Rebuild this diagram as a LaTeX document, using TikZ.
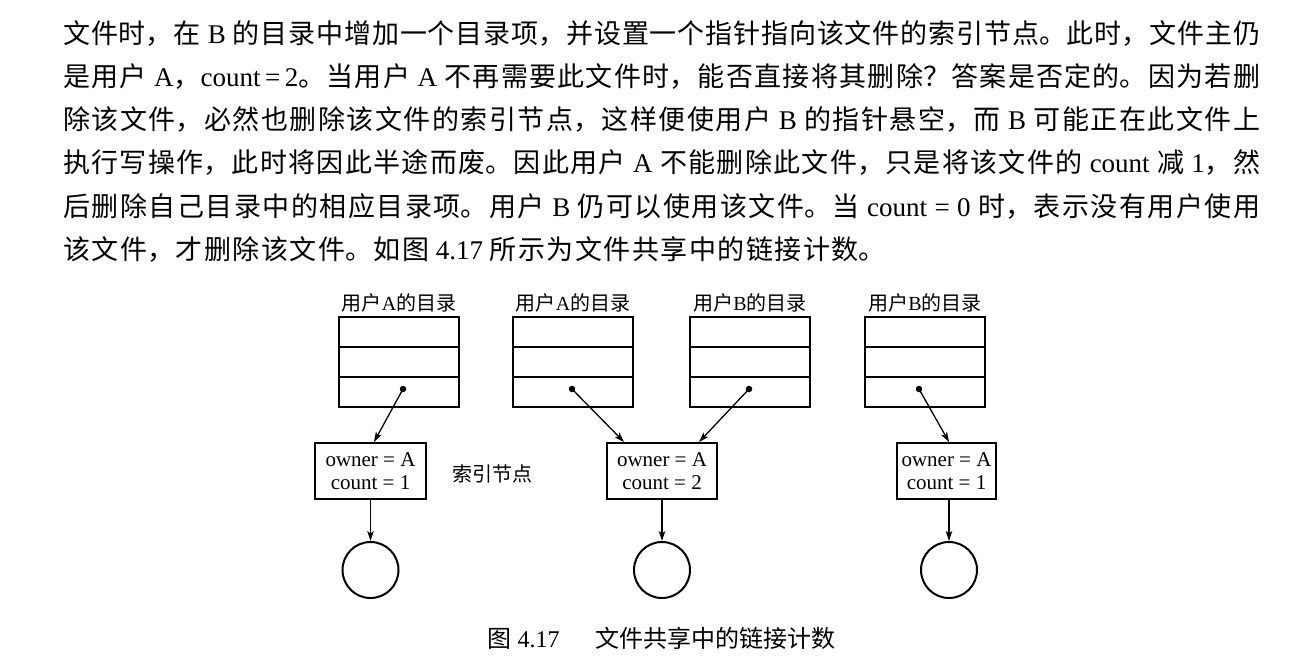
\documentclass[tikz,border=0pt]{standalone}
\usepackage{fontspec}
\setmainfont{Liberation Serif}
\newfontfamily\zh{Noto Sans CJK SC}
\usetikzlibrary{arrows.meta,calc}
\newcommand\fullline[1]{\parbox[t]{1197pt}{\noindent\parfillskip=0pt\relax #1\par}}
\newcommand\lastline[1]{\parbox[t]{1197pt}{\noindent\XeTeXlinebreakskip=1.5pt\relax #1\par}}
\newcommand\parafont{\XeTeXlinebreaklocale "zh"\relax\XeTeXlinebreakskip=0pt plus 8pt minus 1pt\relax\fontsize{27}{43}\selectfont}
\begin{document}
\begin{tikzpicture}[x=1pt,y=-1pt,
  para/.style={anchor=base west, inner sep=0pt, font=\parafont},
  dir/.style={draw, line width=2.2pt, minimum width=120pt, minimum height=90pt, inner sep=0pt, outer sep=0pt},
  rowline/.style={line width=1.2pt},
  idx/.style={draw, line width=2pt, minimum height=56pt, inner sep=0pt, align=center,
    font=\fontsize{21}{23}\selectfont},
  filec/.style={draw, circle, line width=2pt, minimum size=56pt, inner sep=0pt},
  dot/.style={circle, fill=black, minimum size=6.5pt, inner sep=0pt},
  lab/.style={font=\fontsize{20}{24}\selectfont, inner sep=0pt, anchor=base},
  ptr/.style={-{Stealth[length=10pt,width=6.5pt,inset=2.5pt]}, line width=1.3pt},
  vptr/.style={-{Stealth[length=10pt,width=6.5pt,inset=2.5pt]}, line width=1.1pt}
]
\fill[white] (0,0) rectangle (1305,657);
\useasboundingbox (0,0) rectangle (1305,657);

% paragraph
\node[para] (t1) at (63,43) {\fullline{{\zh 文件时，在} B {\zh 的目录中增加一个目录项，并设置一个指针指向该文件的索引节点。此时，文件主仍}}};
\node[para] (t2) at (63,86) {\fullline{{\zh 是用户} A{\zh ，}count\,=\,2{\zh 。当用户} A {\zh 不再需要此文件时，能否直接将其删除？答案是否定的。因为若删}}};
\node[para] (t3) at (63,129) {\fullline{{\zh 除该文件，必然也删除该文件的索引节点，这样便使用户} B {\zh 的指针悬空，而} B {\zh 可能正在此文件上}}};
\node[para] (t4) at (63,172.5) {\fullline{{\zh 执行写操作，此时将因此半途而废。因此用户} A {\zh 不能删除此文件，只是将该文件的} count {\zh 减} 1{\zh ，然}}};
\node[para] (t5) at (63,216) {\fullline{{\zh 后删除自己目录中的相应目录项。用户} B {\zh 仍可以使用该文件。当} count = 0 {\zh 时，表示没有用户使用}}};
\node[para] (t6) at (63,259) {\lastline{{\zh 该文件，才删除该文件。如图} 4.17 {\zh 所示为文件共享中的链接计数。}}};

% directory labels
\node[lab] (l1) at (399,310.5) {{\zh 用户}A{\zh 的目录}};
\node[lab] (l2) at (573,310.5) {{\zh 用户}A{\zh 的目录}};
\node[lab] (l3) at (750,310.5) {{\zh 用户}B{\zh 的目录}};
\node[lab] (l4) at (925,310.5) {{\zh 用户}B{\zh 的目录}};

% directory boxes
\node[dir] (d1) at (399,362) {};
\node[dir] (d2) at (573,362) {};
\node[dir] (d3) at (750,362) {};
\node[dir] (d4) at (925,362) {};
\foreach \d in {d1,d2,d3,d4}{
  \draw[rowline] ($(\d.north west)!1/3!(\d.south west)$) -- ($(\d.north east)!1/3!(\d.south east)$);
  \draw[rowline] ($(\d.north west)!2/3!(\d.south west)$) -- ($(\d.north east)!2/3!(\d.south east)$);
}

% pointers
\node[dot] (p1) at (403,389) {};
\node[dot] (p2) at (572,389) {};
\node[dot] (p3) at (749,389) {};
\node[dot] (p4) at (919,389) {};

% index nodes
\node[idx, minimum width=111pt] (i1) at (370.5,471) {owner = A\\count = 1};
\node[idx, minimum width=110pt] (i2) at (662,471) {owner = A\\count = 2};
\node[idx, minimum width=99pt] (i3) at (946.5,471) {owner = A\\count = 1};
\node[lab] (il) at (492,481.5) {{\zh 索引节点}};

\draw[ptr] (p1.center) -- ($(i1.north west)+(60,0)$);
\draw[ptr] (p2.center) -- ($(i2.north west)+(18,0)$);
\draw[ptr] (p3.center) -- ($(i2.north west)+(93,0)$);
\draw[ptr] (p4.center) -- ($(i3.north west)+(53,0)$);

% files
\node[filec] (f1) at (370.5,570) {};
\node[filec] (f2) at (662,570) {};
\node[filec] (f3) at (949,570) {};
\draw[vptr] (i1) -- (f1);
\draw[vptr] (i2) -- (f2);
\draw[vptr] (i3.south -| f3) -- (f3);

% caption
\node[anchor=base, inner sep=0pt, font=\fontsize{24}{28}\selectfont] (cap) at (661.5,647)
  {{\zh 图} 4.17\hspace{36pt}{\zh 文件共享中的链接计数}};
\end{tikzpicture}
\end{document}
